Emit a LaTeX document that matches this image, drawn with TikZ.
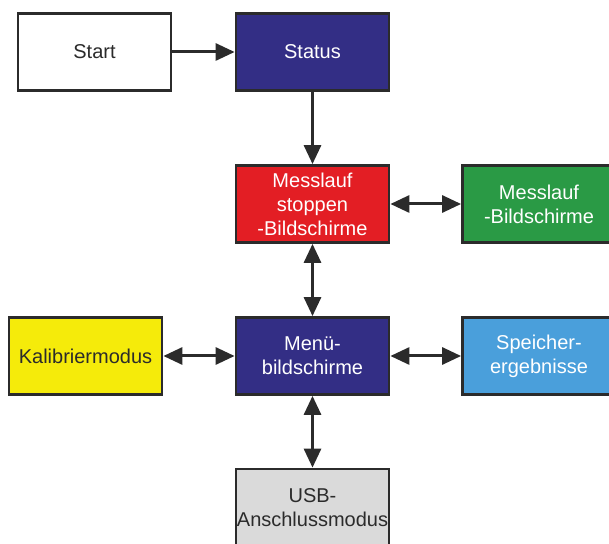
\documentclass[tikz,border=0pt]{standalone}
\usepackage{fontspec}
\setmainfont{Liberation Sans}
\usetikzlibrary{arrows.meta}
\definecolor{edge}{HTML}{2B2B2B}
\definecolor{navy}{HTML}{332E85}
\definecolor{redbox}{HTML}{E31E24}
\definecolor{greenbox}{HTML}{2A9A45}
\definecolor{yellowbox}{HTML}{F5EB0A}
\definecolor{bluebox}{HTML}{4A9FDB}
\definecolor{graybox}{HTML}{DADADA}
\tikzset{
  box/.style={draw=edge, line width=2.8pt, minimum width=153pt, minimum height=77pt,
    inner sep=0pt, align=center, font=\fontsize{20}{24}\selectfont},
  lighttext/.style={text=white},
  darktext/.style={text=edge},
  conn/.style={draw=edge, line width=3pt, -{Triangle[length=19pt,width=17pt]}},
  bconn/.style={draw=edge, line width=3pt, {Triangle[length=19pt,width=17pt]}-{Triangle[length=19pt,width=17pt]}}
}
\begin{document}
\begin{tikzpicture}[x=1pt,y=1pt]
\useasboundingbox (0,0) rectangle (609,543);
\fill[white] (0,0) rectangle (609,543);
\node[box, fill=white, darktext] (start) at (94.5,491) {Start};
\node[box, fill=navy, lighttext] (status) at (312.5,491) {Status};
\node[box, fill=redbox, lighttext] (stop) at (312.5,339) {Messlauf\\stoppen\\-Bildschirme};
\node[box, fill=greenbox, lighttext] (run) at (539,339) {Messlauf\\-Bildschirme};
\node[box, fill=yellowbox, darktext] (cal) at (85.5,187) {Kalibriermodus};
\node[box, fill=navy, lighttext] (menu) at (312.5,187) {Menü-\\bildschirme};
\node[box, fill=bluebox, lighttext] (mem) at (539,187) {Speicher-\\ergebnisse};
\node[box, fill=graybox, darktext] (usb) at (312.5,35.5) {USB-\\Anschlussmodus};
\draw[conn] (start) -- (status);
\draw[conn] (status) -- (stop);
\draw[bconn] (stop) -- (run);
\draw[bconn] (stop) -- (menu);
\draw[bconn] (cal) -- (menu);
\draw[bconn] (menu) -- (mem);
\draw[bconn] (menu) -- (usb);
\end{tikzpicture}
\end{document}
